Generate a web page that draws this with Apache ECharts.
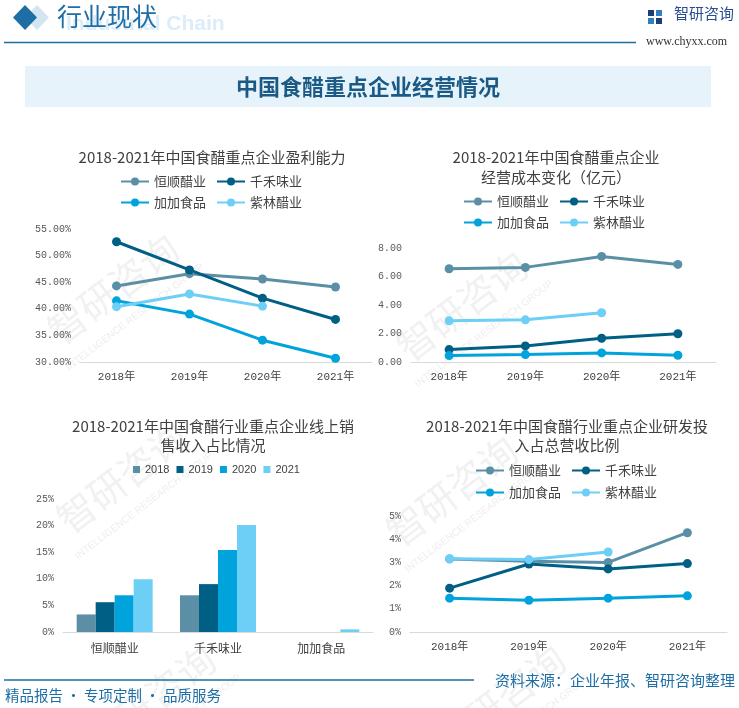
<!DOCTYPE html>
<html>
<head>
<meta charset="utf-8">
<script src="https://cdn.jsdelivr.net/npm/echarts@6/dist/echarts.min.js"></script>
<style>
html,body{margin:0;padding:0;background:#fff;}
#main{width:739px;height:708px;}
</style>
</head>
<body>
<div id="main"></div>
<script>
// ---- data ----
const years = ['2018年', '2019年', '2020年', '2021年'];
const companies = ['恒顺醋业', '千禾味业', '加加食品', '紫林醋业'];

// 盈利能力 (%)
const profitHengshun = [44.3, 46.6, 45.6, 44.1];
const profitQianhe = [52.6, 47.3, 42.0, 38.0];
const profitJiajia = [41.5, 39.0, 34.1, 30.7];
const profitZilin = [40.4, 42.8, 40.5];

// 经营成本 (亿元)
const costHengshun = [6.54, 6.64, 7.41, 6.85];
const costQianhe = [0.87, 1.13, 1.67, 1.98];
const costJiajia = [0.45, 0.52, 0.64, 0.47];
const costZilin = [2.89, 2.96, 3.46];

// 线上销售收入占比 (%)
const onlineCategories = ['恒顺醋业', '千禾味业', '加加食品'];
const onlineYears = ['2018', '2019', '2020', '2021'];
const online2018 = [3.3, 6.9, 0];
const online2019 = [5.6, 9.0, 0];
const online2020 = [6.9, 15.4, 0];
const online2021 = [9.9, 20.1, 0.5];

// 研发投入占总营收比例 (%)
const rdHengshun = [3.15, 3.05, 3.0, 4.28];
const rdQianhe = [1.89, 2.93, 2.72, 2.95];
const rdJiajia = [1.46, 1.37, 1.46, 1.56];
const rdZilin = [3.16, 3.12, 3.45];

const lineColors = ['#5b8fa6', '#005f85', '#00a3dc', '#6dcff6'];
const barColors = ['#5b8fa6', '#005f85', '#00a3dc', '#6dcff6'];

const CJK = '"Noto Sans CJK SC", sans-serif';
const MONO = '"Liberation Mono", "Noto Sans CJK SC", monospace';
const BLUE = '#1c6ea4';

function lineSeries(name, data, idx, color) {
  return {
    type: 'line', name: name, data: data,
    xAxisIndex: idx, yAxisIndex: idx,
    symbol: 'circle', symbolSize: 9,
    lineStyle: {width: 3, color: color},
    itemStyle: {color: color},
    z: 3
  };
}
function xCat(idx, data, fs, margin) {
  return {
    type: 'category', gridIndex: idx, data: data,
    axisLine: {lineStyle: {color: '#d9d9d9', width: 1}},
    axisTick: {show: false},
    axisLabel: {color: '#404040', fontFamily: fs === 12 ? CJK : MONO, fontSize: fs === 12 ? 12 : 11, margin: margin}
  };
}
function yVal(idx, min, max, interval, fmt) {
  return {
    type: 'value', gridIndex: idx, min: min, max: max, interval: interval,
    axisLine: {show: false}, axisTick: {show: false}, splitLine: {show: false},
    axisLabel: {color: '#595959', fontFamily: MONO, fontSize: 10, margin: 9, formatter: fmt}
  };
}
function legendRow(left, top, items) {
  return {
    left: left, top: top, padding: 0, data: items, itemWidth: 28, itemHeight: 10, itemGap: 10,
    textStyle: {fontFamily: CJK, fontSize: 13, color: '#404040'},
    selectedMode: false
  };
}
function watermark(x, y) {
  return [
    {type: 'text', x: x, y: y, rotation: 0.65, z: -5,
      style: {text: '智研咨询', font: '38px "Noto Sans CJK SC", sans-serif', fill: '#f1f1f1', textAlign: 'center', textVerticalAlign: 'middle'}},
    {type: 'text', x: x + 22, y: y + 28, rotation: 0.65, z: -5,
      style: {text: 'INTELLIGENCE RESEARCH GROUP', font: '10px "Liberation Sans", Arial, sans-serif', fill: '#eeeeee', textAlign: 'center', textVerticalAlign: 'middle'}}
  ];
}

const titleStyle = {fontFamily: CJK, fontSize: 15, fontWeight: 'normal', color: '#404040', lineHeight: 20};

const graphics = [].concat(
  watermark(113, 289), watermark(462, 306), watermark(122, 478), watermark(452, 491), watermark(150, 700), watermark(500, 700),
  [
  // header
  {type: 'polygon', shape: {points: [[37, 5], [49, 17.5], [37, 30], [25, 17.5]]}, style: {fill: '#d3e5f0'}},
  {type: 'polygon', shape: {points: [[25, 5], [37, 17.5], [25, 30], [13, 17.5]]}, style: {fill: '#1c6ea4'}},
  {type: 'text', left: 66, top: 14, style: {text: 'Industrial Chain', font: 'bold 21px "Liberation Sans", Arial, sans-serif', fill: '#dcedf8'}, z: 1},
  {type: 'text', left: 57, top: 4, style: {text: '行业现状', font: '25px "Noto Sans CJK SC", sans-serif', fill: '#1c6ea4'}, z: 2},
  {type: 'line', shape: {x1: 4, y1: 42.5, x2: 636, y2: 42.5}, style: {stroke: BLUE, lineWidth: 1.5}},
  // logo
  {type: 'rect', shape: {x: 648, y: 10, width: 6, height: 6}, style: {fill: '#1e3a78'}},
  {type: 'rect', shape: {x: 656, y: 10, width: 6, height: 6}, style: {fill: '#2f7fc4'}},
  {type: 'rect', shape: {x: 648, y: 18, width: 6, height: 6}, style: {fill: '#2f7fc4'}},
  {type: 'rect', shape: {x: 656, y: 18, width: 6, height: 6}, style: {fill: '#1e3a78'}},
  {type: 'text', left: 674, top: 6, style: {text: '智研咨询', font: '15px "Noto Sans CJK SC", sans-serif', fill: '#2a4d8f'}},
  {type: 'text', left: 646, top: 36, style: {text: 'www.chyxx.com', font: '12px "Liberation Serif", serif', fill: '#333'}},
  // banner
  {type: 'rect', shape: {x: 25, y: 66, width: 686, height: 41}, style: {fill: '#e6f3fb'}, z: -1},
  {type: 'text', x: 368, y: 87, style: {text: '中国食醋重点企业经营情况', font: 'bold 22px "Noto Sans CJK SC", sans-serif', fill: '#1a5a85', textAlign: 'center', textVerticalAlign: 'middle'}},
  // footer
  {type: 'line', shape: {x1: 4, y1: 680, x2: 474, y2: 680}, style: {stroke: BLUE, lineWidth: 1.5}},
  {type: 'text', left: 5, top: 688, style: {text: '精品报告 · 专项定制 · 品质服务', font: '14.5px "Noto Sans CJK SC", sans-serif', fill: BLUE}},
  {type: 'text', right: 4, top: 673, style: {text: '资料来源：企业年报、智研咨询整理', font: '15px "Noto Sans CJK SC", sans-serif', fill: BLUE}}
  ]
);

const option = {
  animation: false,
  backgroundColor: '#fff',
  title: [
    {text: '2018-2021年中国食醋重点企业盈利能力', left: 207, top: 142, textAlign: 'center', textStyle: titleStyle},
    {text: '2018-2021年中国食醋重点企业\n经营成本变化（亿元）', left: 551, top: 142, textAlign: 'center', textStyle: titleStyle},
    {text: '2018-2021年中国食醋行业重点企业线上销\n售收入占比情况', left: 208, top: 412, textAlign: 'center', textStyle: Object.assign({}, titleStyle, {lineHeight: 19})},
    {text: '2018-2021年中国食醋行业重点企业研发投\n入占总营收比例', left: 562, top: 412, textAlign: 'center', textStyle: Object.assign({}, titleStyle, {lineHeight: 19})}
  ],
  legend: [
    legendRow(120, 175, [companies[0], companies[1]]),
    legendRow(120, 196, [companies[2], companies[3]]),
    legendRow(463, 195, [companies[0], companies[1]]),
    legendRow(463, 216, [companies[2], companies[3]]),
    legendRow(475, 464, [companies[0], companies[1]]),
    legendRow(475, 486, [companies[2], companies[3]]),
    {
      left: 133, top: 464, padding: 0, data: onlineYears, icon: 'rect', itemWidth: 7, itemHeight: 7, itemGap: 7,
      textStyle: {fontFamily: '"Liberation Sans", Arial, sans-serif', fontSize: 11, color: '#404040'},
      selectedMode: false
    }
  ],
  grid: [
    {left: 80, top: 229, width: 292, height: 133},
    {left: 411, top: 248, width: 305, height: 114},
    {left: 63, top: 499, width: 310, height: 133},
    {left: 410, top: 516, width: 317, height: 116}
  ],
  xAxis: [
    xCat(0, years, 11, 10),
    xCat(1, years, 11, 10),
    xCat(2, onlineCategories, 12, 10),
    xCat(3, years, 11, 10)
  ],
  yAxis: [
    yVal(0, 30, 55, 5, v => v.toFixed(2) + '%'),
    yVal(1, 0, 8, 2, v => v.toFixed(2)),
    yVal(2, 0, 25, 5, v => v + '%'),
    yVal(3, 0, 5, 1, v => v + '%')
  ],
  series: [
    lineSeries(companies[0], profitHengshun, 0, lineColors[0]),
    lineSeries(companies[1], profitQianhe, 0, lineColors[1]),
    lineSeries(companies[2], profitJiajia, 0, lineColors[2]),
    lineSeries(companies[3], profitZilin, 0, lineColors[3]),

    lineSeries(companies[0], costHengshun, 1, lineColors[0]),
    lineSeries(companies[1], costQianhe, 1, lineColors[1]),
    lineSeries(companies[2], costJiajia, 1, lineColors[2]),
    lineSeries(companies[3], costZilin, 1, lineColors[3]),

    {type: 'bar', name: onlineYears[0], data: online2018, xAxisIndex: 2, yAxisIndex: 2, barWidth: 19, barGap: '0%', itemStyle: {color: barColors[0]}},
    {type: 'bar', name: onlineYears[1], data: online2019, xAxisIndex: 2, yAxisIndex: 2, barWidth: 19, barGap: '0%', itemStyle: {color: barColors[1]}},
    {type: 'bar', name: onlineYears[2], data: online2020, xAxisIndex: 2, yAxisIndex: 2, barWidth: 19, barGap: '0%', itemStyle: {color: barColors[2]}},
    {type: 'bar', name: onlineYears[3], data: online2021, xAxisIndex: 2, yAxisIndex: 2, barWidth: 19, barGap: '0%', itemStyle: {color: barColors[3]}},

    lineSeries(companies[0], rdHengshun, 3, lineColors[0]),
    lineSeries(companies[1], rdQianhe, 3, lineColors[1]),
    lineSeries(companies[2], rdJiajia, 3, lineColors[2]),
    lineSeries(companies[3], rdZilin, 3, lineColors[3])
  ],
  graphic: graphics
};

const chart = echarts.init(document.getElementById('main'), null, {renderer: 'canvas'});
chart.setOption(option);
</script>
</body>
</html>
